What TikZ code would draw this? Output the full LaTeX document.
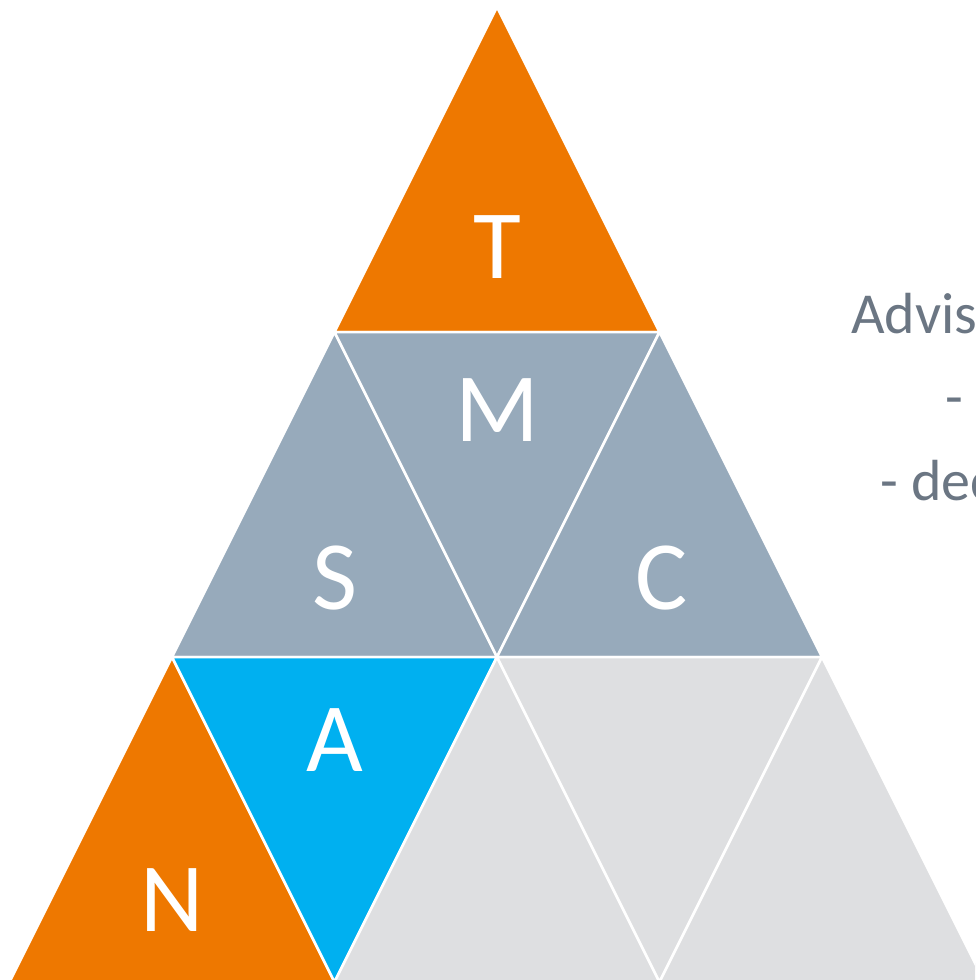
\documentclass[tikz,border=0pt]{standalone}
\usepackage{fontspec}
\setmainfont{Carlito}
\usepackage{xcolor}
\usepackage{tikz}
\usetikzlibrary{positioning}
\definecolor{tiporange}{HTML}{EE7800}
\definecolor{midslate}{HTML}{97AABB}
\definecolor{skycyan}{HTML}{00B0F0}
\definecolor{basegray}{HTML}{DEDFE1}
\definecolor{notegray}{HTML}{6B7683}

\begin{document}
\begin{tikzpicture}[x=1pt, y=-1pt,
    tri/.style={draw=white, line width=2.5pt, line join=miter},
    letter/.style={text=white, inner sep=0pt, font=\fontsize{98}{98}\selectfont},
    note/.style={text=notegray, inner sep=0pt, anchor=base west, font=\fontsize{58}{70}\selectfont}]
    \useasboundingbox (0,0) rectangle (975,980);
    \clip (0,0) rectangle (975,980);
    \def\w{162.5}
    \def\h{325}

    % ── GRID POINTS ───────────────────────────────────────────────────
    \foreach \r in {0,...,3}{
        \foreach \j in {0,...,\r}{
            \coordinate (v\r\j) at ({497+(2*\j-\r)*\w}, {7+\r*\h});
        }
    }

    % ── TOP ───────────────────────────────────────────────────────────
    \filldraw[tri, fill=tiporange] (v00) -- (v10) -- (v11) -- cycle;

    % ── MIDDLE ROW ────────────────────────────────────────────────────
    \filldraw[tri, fill=midslate] (v10) -- (v20) -- (v21) -- cycle;
    \filldraw[tri, fill=midslate] (v10) -- (v11) -- (v21) -- cycle;
    \filldraw[tri, fill=midslate] (v11) -- (v21) -- (v22) -- cycle;

    % ── BOTTOM ROW ────────────────────────────────────────────────────
    \filldraw[tri, fill=tiporange] (v20) -- (v30) -- (v31) -- cycle;
    \filldraw[tri, fill=skycyan] (v20) -- (v21) -- (v31) -- cycle;
    \filldraw[tri, fill=basegray] (v21) -- (v31) -- (v32) -- cycle;
    \filldraw[tri, fill=basegray] (v21) -- (v22) -- (v32) -- cycle;
    \filldraw[tri, fill=basegray] (v22) -- (v32) -- (v33) -- cycle;

    % Letters
    \node[letter] (top) at (497, 247) {T};
    \node[letter] (mid) at (497, 410) {M};
    \node[letter] (lft) at (335, 578) {S};
    \node[letter] (rgt) at (662, 578) {C};
    \node[letter] (cyn) at (335, 740) {A};
    \node[letter] (bot) at (172, 900) {N};

    % ── NOTE (cut off at the edge) ────────────────────────────────────
    \node[note] (adv) at (851, 333) {Advis};
    \node[note] (dsh) at (945, 416) {-};
    \node[note] (dec) at (880, 500) {- dec};
\end{tikzpicture}
\end{document}
